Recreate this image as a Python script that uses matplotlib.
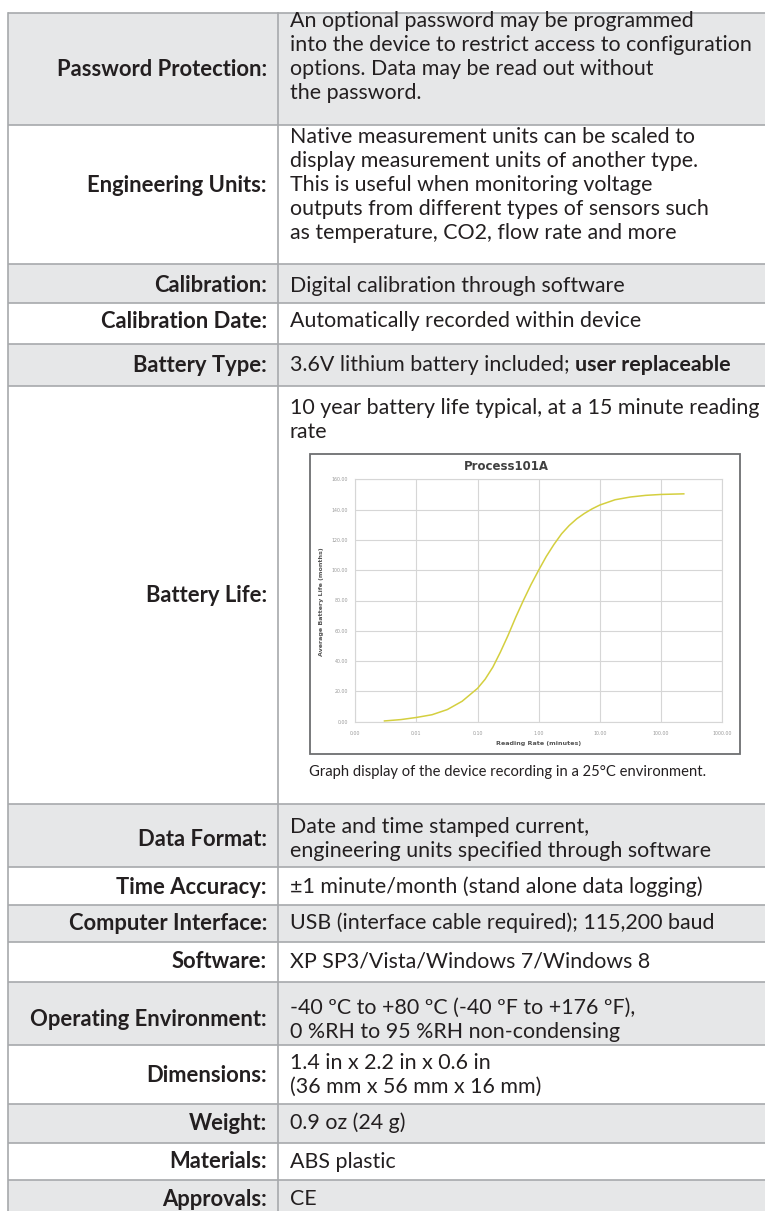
import matplotlib
matplotlib.use("Agg")
import matplotlib.pyplot as plt
from matplotlib.ticker import FixedLocator, FixedFormatter
from matplotlib.patches import Rectangle

# ---------------- data ----------------
row_labels = [
    "Password Protection:", "Engineering Units:", "Calibration:", "Calibration Date:",
    "Battery Type:", "Battery Life:", "Data Format:", "Time Accuracy:",
    "Computer Interface:", "Software:", "Operating Environment:", "Dimensions:",
    "Weight:", "Materials:", "Approvals:",
]
row_values = [
    ["An optional password may be programmed",
     "into the device to restrict access to configuration",
     "options. Data may be read out without",
     "the password."],
    ["Native measurement units can be scaled to",
     "display measurement units of another type.",
     "This is useful when monitoring voltage",
     "outputs from different types of sensors such",
     "as temperature, CO2, flow rate and more"],
    ["Digital calibration through software"],
    ["Automatically recorded within device"],
    ["3.6V lithium battery included; "],
    ["10 year battery life typical, at a 15 minute reading", "rate"],
    ["Date and time stamped current,", "engineering units specified through software"],
    ["\u00b11 minute/month (stand alone data logging)"],
    ["USB (interface cable required); 115,200 baud"],
    ["XP SP3/Vista/Windows 7/Windows 8"],
    ["-40 \u00baC to +80 \u00baC (-40 \u00baF to +176 \u00baF),", "0 %RH to 95 %RH non-condensing"],
    ["1.4 in x 2.2 in x 0.6 in", "(36 mm x 56 mm x 16 mm)"],
    ["0.9 oz (24 g)"],
    ["ABS plastic"],
    ["CE"],
]
bold_suffix = {4: "user replaceable"}
caption = "Graph display of the device recording in a 25\u00b0C environment."

chart_title = "Process101A"
chart_xlabel = "Reading Rate (minutes)"
chart_ylabel = "Average Battery Life (months)"
reading_rate = [0.003, 0.0056, 0.01, 0.018, 0.032, 0.056, 0.1, 0.133, 0.178, 0.237,
                0.316, 0.422, 0.562, 0.75, 1.0, 1.33, 1.78, 2.37, 3.16, 4.22,
                5.62, 7.5, 10.0, 17.8, 31.6, 56.2, 100.0, 237.0]
battery_life = [0.5, 1.4, 2.8, 4.6, 8.0, 13.5, 22.0, 28.0, 36.0, 46.0,
                57.0, 69.0, 80.0, 90.5, 100.0, 109.0, 117.0, 124.0, 129.5, 134.0,
                137.5, 140.5, 143.0, 146.5, 148.3, 149.4, 150.0, 150.4]
x_ticks = [0.001, 0.01, 0.1, 1, 10, 100, 1000]
x_tick_labels = ["0.00", "0.01", "0.10", "1.00", "10.00", "100.00", "1000.00"]
y_ticks = [0, 20, 40, 60, 80, 100, 120, 140, 160]
y_tick_labels = ["0.00", "20.00", "40.00", "60.00", "80.00", "100.00", "120.00", "140.00", "160.00"]

# ---------------- layout (pixels) ----------------
W, H = 765, 1211
row_edges = [13, 125, 264, 303, 344, 386, 804, 867, 905, 942, 982, 1045, 1104, 1143, 1180, 1222]
label_y = [69, 185, 286, 321, 365, 595, 839, 887, 923, 962, 1020, 1076, 1123, 1162, 1199]
value_y0 = [21, 137, 286, 321, 365, 408, 827, 887, 923, 962, 1008, 1063, 1123, 1162, 1199]
line_step = 24
left_x, div_x = 8, 278
label_right, value_left = 267, 290
gray_fill = "#e6e7e8"
line_col = "#a7a9ac"
text_col = "#231f20"
FAMILY = ["Lato", "DejaVu Sans"]

fig = plt.figure(figsize=(W / 100, H / 100), dpi=100)
ax = fig.add_axes([0, 0, 1, 1])
ax.set_xlim(0, W)
ax.set_ylim(H, 0)
ax.axis("off")
renderer = fig.canvas.get_renderer()


def fit(text, weight, target, base=14.0):
    t = ax.text(0, 0, text, fontsize=base, family=FAMILY, weight=weight)
    w = t.get_window_extent(renderer).width
    t.remove()
    return base * target / w


fs_reg = fit("10 year battery life typical, at a 15 minute reading", "normal", 470)
fs_bold = fit("Operating Environment:", "bold", 238)
fs_cap = fit(caption, "normal", 396)

# row backgrounds
for i in range(len(row_labels)):
    top, bot = row_edges[i], row_edges[i + 1]
    if i % 2 == 0:
        ax.add_patch(Rectangle((left_x, top), W - left_x, bot - top, facecolor=gray_fill,
                               edgecolor="none", zorder=0))
for e in row_edges[:-1]:
    ax.plot([left_x, W], [e, e], color=line_col, lw=1.2, zorder=2, solid_capstyle="butt")
for xv in (left_x, div_x):
    ax.plot([xv, xv], [row_edges[0], H + 5], color=line_col, lw=1.2, zorder=2)

# texts
for i, lab in enumerate(row_labels):
    ax.text(label_right, label_y[i], lab, ha="right", va="center", fontsize=fs_bold,
            family=FAMILY, weight="bold", color=text_col, zorder=3)
    for j, line in enumerate(row_values[i]):
        t = ax.text(value_left, value_y0[i] + j * line_step, line, ha="left", va="center",
                    fontsize=fs_reg, family=FAMILY, color=text_col, zorder=3)
        if i in bold_suffix:
            ax.annotate(bold_suffix[i], xy=(1, 0), xycoords=t, ha="left", va="bottom",
                        fontsize=fs_reg, family=FAMILY, weight="bold", color=text_col, zorder=3)

# chart box
box_l, box_t, box_r, box_b = 310, 454, 740, 754
ax.add_patch(Rectangle((box_l, box_t), box_r - box_l, box_b - box_t, facecolor="white",
                       edgecolor="#6d6e71", lw=1.3, zorder=3))
ax.text(value_left + 19, 772, caption, ha="left", va="center", fontsize=fs_cap,
        family=FAMILY, color=text_col, zorder=3)
ax.text(506, 467, chart_title, ha="center", va="center", fontsize=8.5, weight="bold",
        family=["DejaVu Sans"], color="#404040", zorder=4)
ax.text(322, 602, chart_ylabel, ha="center", va="center", rotation=90, fontsize=4.6,
        weight="bold", family=["DejaVu Sans"], color="#555555", zorder=4)
ax.text(539, 743, chart_xlabel, ha="center", va="center", fontsize=4.6,
        weight="bold", family=["DejaVu Sans"], color="#555555", zorder=4)

# plot area
pl, pr, pt, pb = 355.3, 722.0, 479.3, 721.7
cax = fig.add_axes([pl / W, 1 - pb / H, (pr - pl) / W, (pb - pt) / H])
cax.set_xscale("log")
cax.set_xlim(x_ticks[0], x_ticks[-1])
cax.set_ylim(y_ticks[0], y_ticks[-1])
cax.xaxis.set_major_locator(FixedLocator(x_ticks))
cax.xaxis.set_major_formatter(FixedFormatter(x_tick_labels))
cax.xaxis.set_minor_locator(FixedLocator([]))
cax.yaxis.set_major_locator(FixedLocator(y_ticks))
cax.yaxis.set_major_formatter(FixedFormatter(y_tick_labels))
cax.grid(True, color="#d6d6d6", lw=0.8)
cax.set_axisbelow(True)
for s in cax.spines.values():
    s.set_color("#d6d6d6")
    s.set_linewidth(0.8)
cax.tick_params(axis="both", length=0, labelsize=3.4, labelcolor="#9a9a9a")
cax.tick_params(axis="x", pad=7)
cax.tick_params(axis="y", pad=5)
cax.plot(reading_rate, battery_life, color="#d4cf3f", lw=1.1)

fig.savefig("out.png", dpi=100)
